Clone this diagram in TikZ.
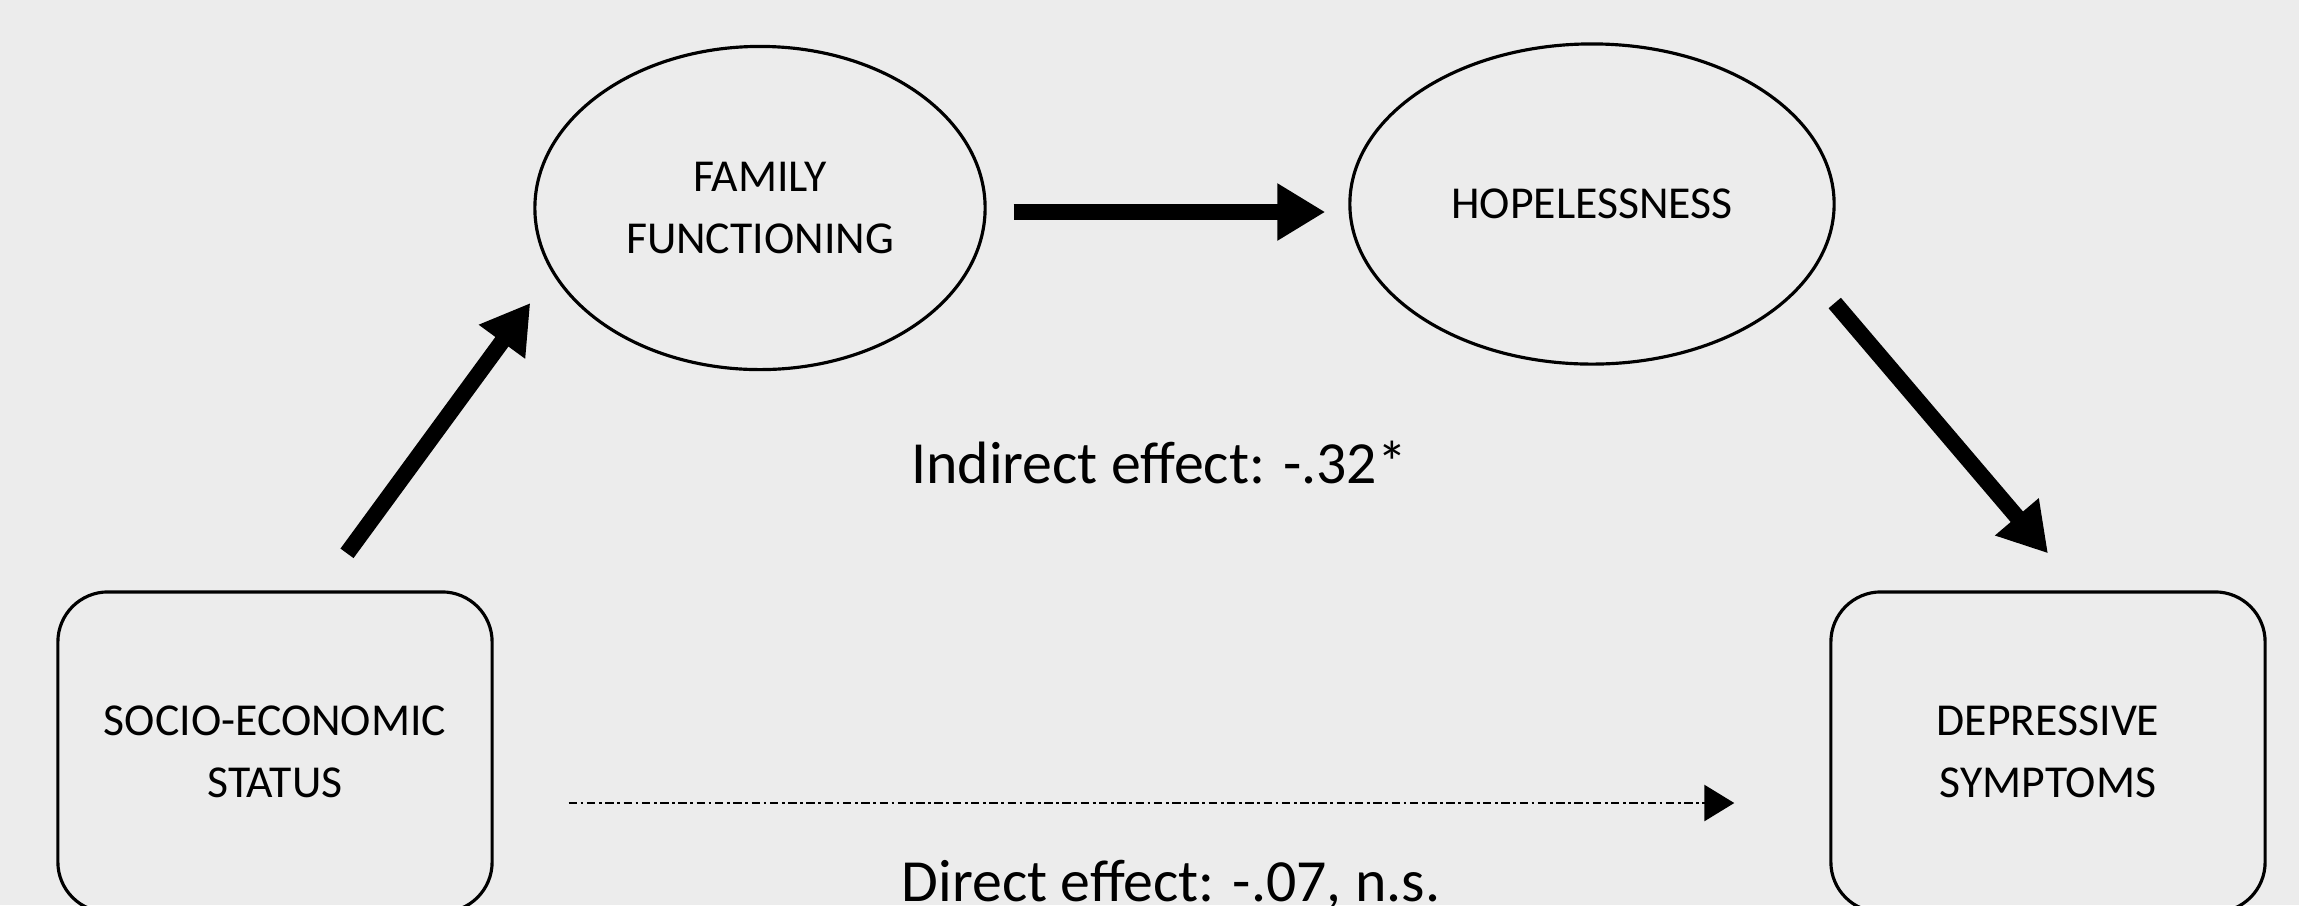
\documentclass[tikz,border=0pt]{standalone}
\usepackage{fontspec}
\setmainfont{Carlito}
\usetikzlibrary{arrows.meta,shapes.geometric}
\definecolor{bggray}{RGB}{236,236,236}
\tikzset{
  varbox/.style={draw, line width=0.9pt, rounded corners=0.5cm, minimum width=4.34cm,
    minimum height=3.2cm, align=center, font=\fontsize{13}{17.6}\selectfont},
  varoval/.style={draw, ellipse, line width=0.9pt, inner sep=0pt, align=center,
    font=\fontsize{13}{17.6}\selectfont},
  bigarrow/.style={line width=4.6pt, -{Triangle[length=0.48cm,width=0.54cm]}},
  dotarrow/.style={line width=0.75pt, dash pattern=on 2.4pt off 1pt on 0.8pt off 1pt,
    -{Triangle[length=0.3cm,width=0.36cm]}},
  effect/.style={anchor=base, font=\fontsize{17}{21}\selectfont}
}
\begin{document}
\begin{tikzpicture}[x=0.01cm, y=-0.01cm]
  \fill[bggray] (0,0) rectangle (2299,905);
  \useasboundingbox (0,0) rectangle (2299,905);
  \clip (0,0) rectangle (2299,905);

  % variables
  \node[varbox] (ses) at (275,752) {SOCIO-ECONOMIC\\STATUS};
  \node[varbox] (dep) at (2048,752) {DEPRESSIVE\\SYMPTOMS};
  \node[varoval, minimum width=4.5cm, minimum height=3.23cm] (fam) at (760,208) {FAMILY\\FUNCTIONING};
  \node[varoval, minimum width=4.84cm, minimum height=3.2cm] (hop) at (1592,204) {HOPELESSNESS};

  % paths
  \draw[bigarrow] ([shift={(72,-37)}]ses.north) -- ([shift={(-3,95)}]fam.west);
  \draw[bigarrow] ([shift={(27,4)}]fam.east) -- ([shift={(-23,8)}]hop.west);
  \draw[bigarrow] ([shift={(-1,99)}]hop.east) -- ([shift={(0,-37)}]dep.north);
  \draw[dotarrow] ([shift={(75,51)}]ses.east) -- ([shift={(-95,51)}]dep.west);

  \node[effect] (indirect) at (1159,483) {Indirect effect: -.32*};
  \node[effect] (direct) at (1171,901) {Direct effect: -.07, n.s.};
\end{tikzpicture}
\end{document}
